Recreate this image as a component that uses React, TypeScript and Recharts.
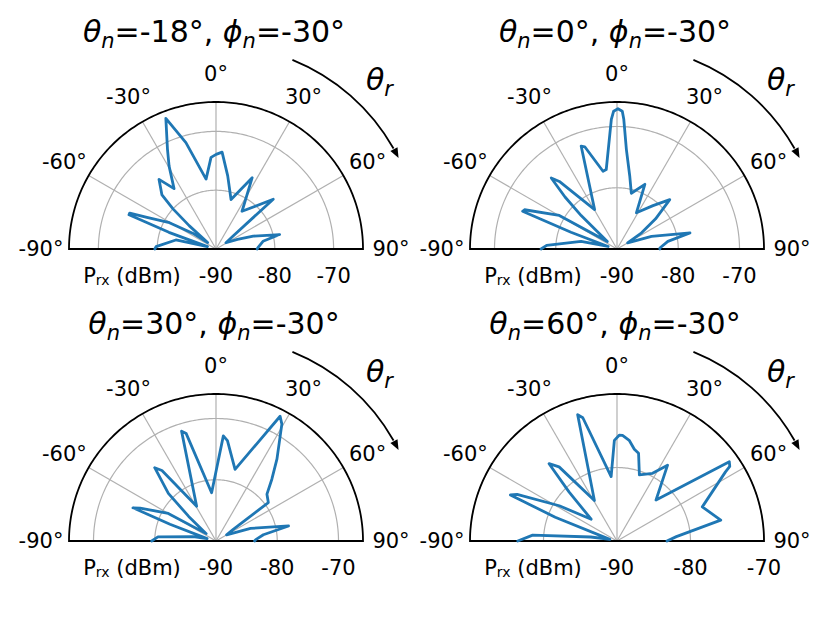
import { RadarChart, Radar, PolarGrid, PolarAngleAxis, PolarRadiusAxis } from "recharts";

// received power vs reflection angle theta_r, one array pair per panel
const theta1 = [-90, -87.8, -77.3, -74, -70.5, -68.5, -67.4, -65.6, -60.5, -55.9, -52, -49, -47, -45, -39.3, -34.8, -29.5, -25.9, -21, -15.8, -8.1, -3.1, 0.1, 3.6, 9.1, 16.9, 26.9, 34.6, 49, 52.8, 58, 66, 71, 77.2, 80.7, 88.6, 90];
const power1 = [-79.6, -79.8, -83, -88.5, -81.5, -74.1, -74.1, -76.9, -80.9, -85.2, -88.2, -84, -80, -77, -74.7, -77.5, -73.8, -71.1, -66.2, -71.2, -78, -74.4, -73.9, -73.5, -77.4, -81.2, -76.4, -82.2, -77.1, -86.4, -88, -86, -83.3, -78.9, -81.9, -82.9, -83];

const theta2 = [-90, -87, -78, -74, -70, -68.2, -67, -59.8, -52, -47, -45, -42.8, -40.5, -29.6, -19.2, -17.5, -10.2, -7.7, -2.5, -1.4, 0.4, 2.2, 3, 5.4, 9.9, 14.4, 23.3, 28.2, 39.7, 46.9, 52, 56.7, 60, 70, 77.6, 81.5, 88.7, 90];
const power2 = [-77.6, -78.5, -84, -88.5, -82, -73.4, -73.6, -79.1, -88, -82, -78, -74.2, -75.5, -82.6, -72.2, -72.5, -77.1, -76.9, -68.8, -67.5, -67.1, -67.5, -68.8, -73.7, -77.9, -80.6, -78.5, -83.3, -80.8, -78.2, -82, -85.2, -88, -84, -77.8, -81.6, -83, -83];

const theta3 = [-90, -86, -79, -75, -70, -68.2, -66.5, -60, -53, -48, -45, -39.9, -37.5, -29.1, -17.4, -15.5, -5.2, 4, 6.5, 14.9, 27.2, 29.4, 36.6, 42.1, 47.4, 53.7, 56, 60, 70, 78.3, 82.5, 88, 90];
const power3 = [-79.5, -80.5, -86.2, -88.5, -82, -75.4, -76.5, -81, -88, -84, -79, -74.4, -75.5, -83.5, -71.2, -71.8, -82.1, -72.8, -73.5, -77.9, -67.1, -68.1, -73.3, -76.4, -78.7, -79.4, -86.6, -88, -84, -77.9, -82.2, -83.5, -83.7];

const theta4 = [-90, -86, -81.3, -77, -69, -66.6, -65, -58.6, -49.8, -44.4, -41.3, -38, -29.2, -17.3, -15.5, -5.2, -1.5, 1.2, 3, 6.9, 10.7, 13.8, 18.7, 27.7, 33.7, 43.6, 54.8, 56.5, 57.5, 68.2, 78.6, 85.8, 90];
const power4 = [-76.5, -78.5, -86.4, -89, -81, -74.2, -75, -80.8, -85.4, -80.7, -76, -77.2, -83.7, -72, -72.6, -81.2, -76.3, -75.6, -75.6, -76.2, -77.3, -77.7, -80.5, -79.6, -77.6, -82.3, -71.3, -71.6, -72.5, -77.5, -75.6, -81.9, -83.2];

const thetaN = ["-18", "0", "30", "60"];
const phiN = "-30";
const rMax = [-65, -66, -66, -70];
const radiusTicks = [-90, -80, -70];
const angleTicks = [-90, -60, -30, 0, 30, 60, 90];

const FONT = "DejaVu Sans";
const BLUE = "#1f77b4";
const OUTER = 147;
const CX = [216, 617];
const CY = [249, 541];

// dense set of angles so the polygon grid looks like a half circle
const arcAngles = Array.from({ length: 181 }, (_, i) => i);

const OpenPath = (props: any) => {
  const pts = props.points as { x: number; y: number }[];
  const d = pts.map((p, i) => `${i ? "L" : "M"}${p.x},${p.y}`).join(" ");
  return <path d={d} fill="none" stroke={BLUE} strokeWidth={2.8} strokeLinejoin="round" strokeLinecap="round" />;
};

const AngleTick = (props: any) => (
  <text x={props.x} y={props.y} textAnchor="middle" dominantBaseline="central" fontSize={21} fontFamily={FONT} fill="#000">
    {`${props.payload.value}°`}
  </text>
);

const RadiusTick = (props: any) => (
  <text x={props.x} y={props.y + 27} textAnchor="middle" dominantBaseline="central" fontSize={21} fontFamily={FONT} fill="#000">
    {props.payload.value}
  </text>
);

const Panel = ({ theta, power, max, left, top, cx }: any) => {
  const rows = theta.map((t: number, i: number) => ({ theta: t, p: power[i] }));
  return (
    <div style={{ position: "absolute", left, top }}>
      <RadarChart width={415} height={300} cx={cx} cy={249} outerRadius={OUTER} startAngle={180} endAngle={0} data={rows} margin={{ top: 0, right: 0, bottom: 0, left: 0 }}>
        <PolarGrid gridType="polygon" polarAngles={arcAngles} radialLines={false} stroke="#b0b0b0" strokeWidth={1.2} />
        <PolarGrid gridType="polygon" polarRadius={[]} stroke="#b0b0b0" strokeWidth={1.2} />
        <PolarGrid gridType="polygon" polarAngles={arcAngles} polarRadius={[OUTER]} radialLines={false} stroke="#000" strokeWidth={1.8} />
        <PolarAngleAxis type="number" dataKey="theta" domain={[-90, 90]} ticks={angleTicks} tickCount={7} tickLine={false} axisLine={false} tickSize={28} tick={<AngleTick />} />
        <PolarRadiusAxis type="number" domain={[-90, max]} ticks={radiusTicks} angle={0} axisLine={false} tick={<RadiusTick />} />
        <Radar dataKey="p" isAnimationActive={false} shape={OpenPath} />
      </RadarChart>
    </div>
  );
};

const Decor = ({ cx, cy, tn }: { cx: number; cy: number; tn: string }) => {
  const R = 204;
  const pt = (a: number, r: number) => {
    const rad = (a * Math.PI) / 180;
    return { x: cx + r * Math.sin(rad), y: cy - r * Math.cos(rad) };
  };
  const s = pt(22, R);
  const e = pt(60.5, R);
  const tip = pt(63.5, R);
  const tr = (62.5 * Math.PI) / 180;
  const tx = Math.cos(tr);
  const ty = Math.sin(tr);
  const bx = tip.x - 10 * tx;
  const by = tip.y - 10 * ty;
  const head = `${tip.x},${tip.y} ${bx - 4 * ty},${by + 4 * tx} ${bx + 4 * ty},${by - 4 * tx}`;
  return (
    <g fontFamily={FONT} fill="#000">
      <text x={cx - 2} y={cy - 207} textAnchor="middle" fontSize={30}>
        <tspan fontStyle="italic">θ</tspan>
        <tspan fontSize={21} fontStyle="italic" dy={6}>n</tspan>
        <tspan dy={-6}>{`=${tn}°, `}</tspan>
        <tspan fontStyle="italic">ϕ</tspan>
        <tspan fontSize={21} fontStyle="italic" dy={6}>n</tspan>
        <tspan dy={-6}>{`=${phiN}°`}</tspan>
      </text>
      <text x={cx + 150} y={cy - 159} fontSize={30}>
        <tspan fontStyle="italic">θ</tspan>
        <tspan fontSize={21} fontStyle="italic" dy={6}>r</tspan>
      </text>
      <path d={`M${s.x},${s.y} A${R},${R} 0 0 1 ${e.x},${e.y}`} fill="none" stroke="#000" strokeWidth={1.8} />
      <polygon points={head} fill="#000" />
      <text x={cx - 84} y={cy + 27} textAnchor="middle" dominantBaseline="central" fontSize={21}>
        <tspan>P</tspan>
        <tspan fontSize={14} dy={4}>rx</tspan>
        <tspan dy={-4}> (dBm)</tspan>
      </text>
    </g>
  );
};

export default function App() {
  const thetas = [theta1, theta2, theta3, theta4];
  const powers = [power1, power2, power3, power4];
  return (
    <div style={{ position: "absolute", left: 0, top: 0, width: 830, height: 631, background: "#fff" }}>
      {thetas.map((t, i) => (
        <Panel key={i} theta={t} power={powers[i]} max={rMax[i]} left={(i % 2) * 415} top={Math.floor(i / 2) * 292} cx={CX[i % 2] - (i % 2) * 415} />
      ))}
      <svg width={830} height={631} style={{ position: "absolute", left: 0, top: 0, pointerEvents: "none" }}>
        {thetaN.map((tn, i) => (
          <Decor key={i} cx={CX[i % 2]} cy={CY[Math.floor(i / 2)]} tn={tn} />
        ))}
      </svg>
    </div>
  );
}
